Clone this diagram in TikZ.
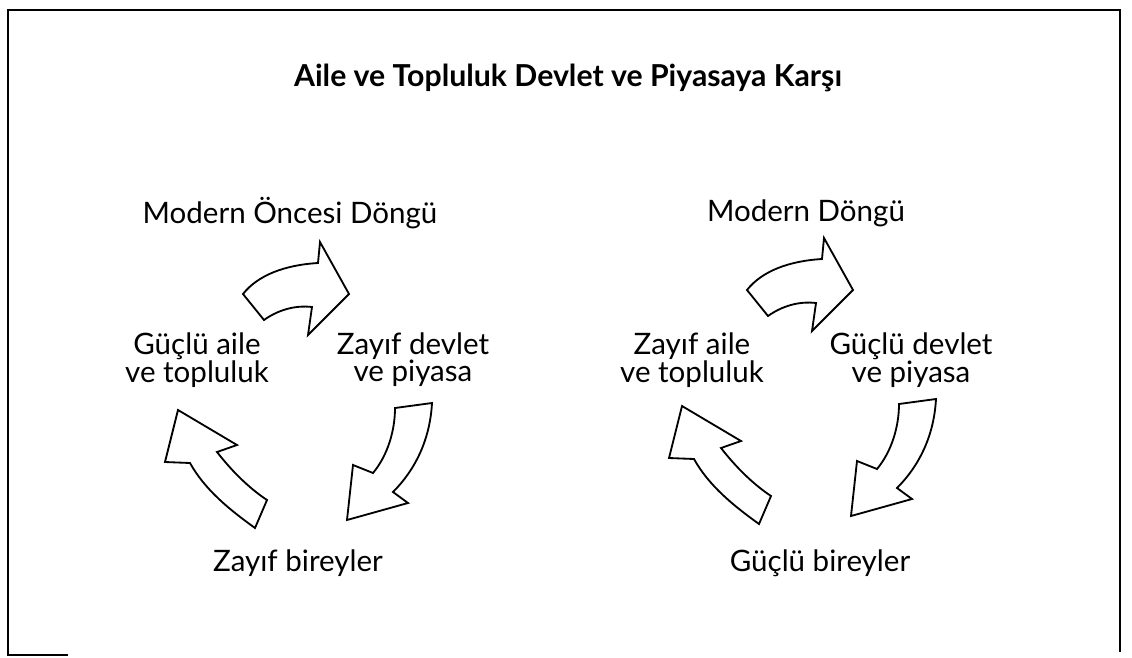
\documentclass[tikz,border=0pt]{standalone}
\usepackage{fontspec}
\setmainfont{Lato}

\begin{document}
\begin{tikzpicture} [x=0.025cm, y=-0.025cm, label/.style={align=center, font=\fontsize{21}{19}\selectfont, inner sep=1pt}, heading/.style={font=\fontsize{21.5}{24}\selectfont\bfseries}, blockarrow/.style={draw, line width=1.3pt, fill=white, line join=miter}, frame/.style={line width=1.8pt}]
  \useasboundingbox (0,0) rectangle (1132,658);
  %% Frame
  \draw [frame] (10,655) -- (8,655) -- (8,10) -- (1120,10) -- (1120,652);
  \draw [frame] (8,655) -- (68,655);
  %% Title
  \node [heading] (title) at (568,78) {Aile ve Topluluk Devlet ve Piyasaya Karşı};
  %% Pre-modern cycle
  \node [label] (pname) at (290,213) {Modern Öncesi Döngü};
  \node [label] (pfamily) at (197,360) {Güçlü aile\\ ve topluluk};
  \node [label] (pstate) at (413,360) {Zayıf devlet\\ ve piyasa};
  \node [label] (pindiv) at (298,563) {Zayıf bireyler};
  %% Modern cycle
  \node [label] (mname) at (806,213) {Modern Döngü};
  \node [label] (mfamily) at (692,360) {Zayıf aile\\ ve topluluk};
  \node [label] (mstate) at (911,360) {Güçlü devlet\\ ve piyasa};
  \node [label] (mindiv) at (820,563) {Güçlü bireyler};
  % Draw block arrows
  \foreach \dx/\dy in {0/0, 504/-4} {
    \begin{scope}[shift={(\dx,\dy)}]
      \draw [blockarrow] (243,294) .. controls (258,275) and (285,265) .. (318,263) -- (320,242) -- (349,294) -- (308,335) -- (312,307) .. controls (295,305) and (278,310) .. (264,320) -- cycle;
      \draw [blockarrow] (432,403) .. controls (430,440) and (415,470) .. (393,492) -- (408,503) -- (347,520) -- (353,465) -- (373,473) .. controls (388,455) and (395,430) .. (395,408) -- cycle;
      \draw [blockarrow] (178,410) -- (237,445) -- (217,452) .. controls (235,475) and (252,490) .. (267,500) -- (255,528) .. controls (230,510) and (205,490) .. (190,463) -- (165,462) -- cycle;
    \end{scope}
  }
\end{tikzpicture}
\end{document}
